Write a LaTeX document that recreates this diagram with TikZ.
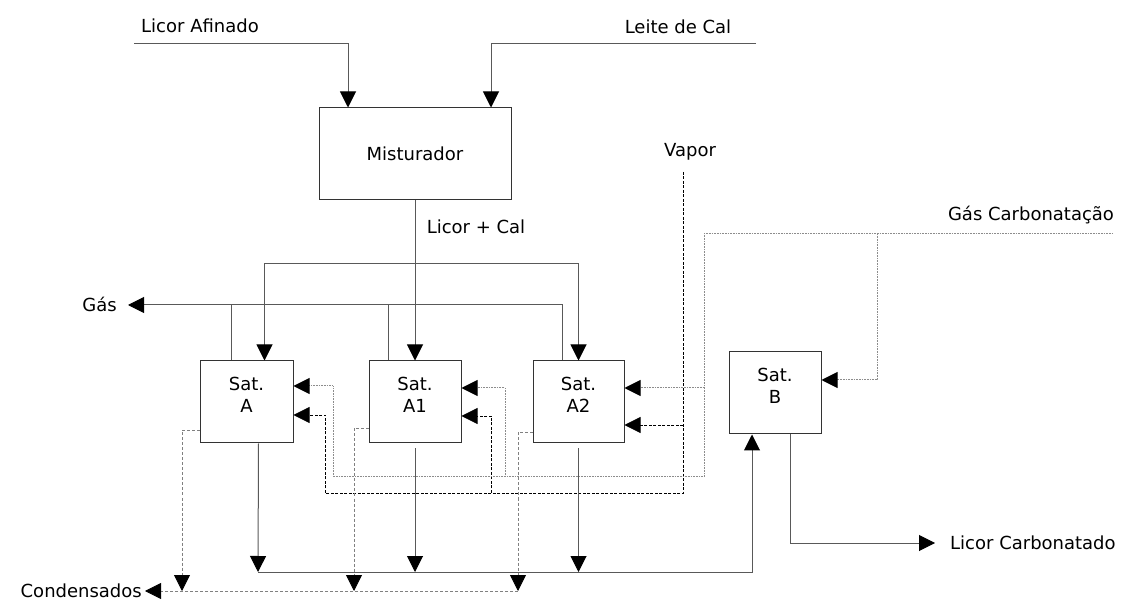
\documentclass[tikz,border=0pt]{standalone}
\usepackage{fontspec}
\setmainfont{DejaVu Sans}
\usetikzlibrary{arrows.meta,positioning}

\begin{document}
\begin{tikzpicture}[
  x=1pt,y=-1pt,
  every node/.style={font=\fontsize{18}{22}\selectfont},
  box/.style={draw=black!80,line width=1pt,minimum width=92pt,minimum height=82pt,inner sep=0pt},
  boxtext/.style={align=center,inner sep=0pt},
  lbl/.style={inner sep=0pt,text height=13pt,text depth=0pt},
  arr/.style={-{Triangle[length=16pt,width=16pt,color=black]}},
  flow/.style={draw=black!65,line width=1pt},
  steam/.style={draw=black,line width=0.8pt,dash pattern=on 3pt off 1.5pt},
  co2/.style={draw=black!45,line width=1pt,dash pattern=on 1pt off 0.6pt},
  cond/.style={draw=black!50,line width=0.8pt,dash pattern=on 3pt off 2pt}
]
\useasboundingbox (0,0) rectangle (1125,601);

% equipamentos
\node[box,minimum width=192pt,minimum height=92pt] (mix) at (415,154) {Misturador};
\node[box,minimum width=93pt] (satA) at (246.5,402) {};
\node[box] (satA1) at (415,402) {};
\node[box,minimum width=91pt] (satA2) at (578.5,402) {};
\node[box] (satB) at (775,393) {};
\node[boxtext] (satAt) at ([yshift=7pt]satA.center) {Sat.\\A};
\node[boxtext] (satA1t) at ([yshift=7pt]satA1.center) {Sat.\\A1};
\node[boxtext] (satA2t) at ([yshift=7pt]satA2.center) {Sat.\\A2};
\node[boxtext] (satBt) at ([yshift=7pt]satB.center) {Sat.\\B};

% pontos das correntes
\coordinate (afin) at (134,44);
\coordinate (leite) at (756,44);
\coordinate (lc) at (415,264);
\coordinate (gas) at (128,305);
\coordinate (vap) at (683,172);
\coordinate (vbot) at (683,493);
\coordinate (vA) at (325,493);
\coordinate (vA1) at (491,493);
\coordinate (gc) at (1113,234);
\coordinate (gtop) at (704,234);
\coordinate (gbot) at (704,477);
\coordinate (gA) at (333,477);
\coordinate (gA1) at (505,477);
\coordinate (gB) at (877,234);
\coordinate (bA) at (258,572);
\coordinate (lcarb) at (935,543);
\coordinate (cnd) at (145,591);

% rotulos
\node[lbl] (afinlbl) at (200,26) {Licor Afinado};
\node[lbl] (leitelbl) at (678,27) {Leite de Cal};
\node[lbl] (vaplbl) at (690,150) {Vapor};
\node[lbl] (gclbl) at (1031,214) {Gás Carbonatação};
\node[lbl] (lclbl) at (476,227) {Licor + Cal};
\node[lbl,left=11pt of gas] (gaslbl) {Gás};
\node[lbl,right=15pt of lcarb] (lcarblbl) {Licor Carbonatado};
\node[lbl,left=3pt of cnd] (cndlbl) {Condensados};

% entradas
\draw[flow,arr] (afin) -| ([xshift=-67pt]mix.north);
\draw[flow,arr] (leite) -| ([xshift=76pt]mix.north);
% licor + cal
\draw[flow] (mix.south) -- (lc);
\draw[flow,arr] (lc) -| ([xshift=18pt]satA.north);
\draw[flow,arr] (lc) -- (satA1.north);
\draw[flow,arr] (lc) -| (satA2.north);
% gas de saida
\draw[flow,arr] ([xshift=-16pt]satA2.north) |- (gas);
\draw[flow] ([xshift=-15pt]satA.north) -- ([xshift=-15pt]satA.north |- gas);
\draw[flow] ([xshift=-27pt]satA1.north) -- ([xshift=-27pt]satA1.north |- gas);
% vapor
\draw[steam] (vap) -- (vbot) -- (vA);
\draw[steam,arr] (vA) |- ([yshift=-13pt]satA.east);
\draw[steam,arr] (vA1) |- ([yshift=-14pt]satA1.east);
\draw[steam,arr] ([yshift=-23pt]satA2.east -| vap) -- ([yshift=-23pt]satA2.east);
% gas de carbonatacao
\draw[co2] (gc) -- (gtop) -- (gbot) -- (gA);
\draw[co2,arr] (gA) |- ([yshift=16pt]satA.east);
\draw[co2,arr] (gA1) |- ([yshift=14pt]satA1.east);
\draw[co2,arr] ([yshift=14pt]satA2.east -| gtop) -- ([yshift=14pt]satA2.east);
\draw[co2,arr] (gB) |- ([yshift=13pt]satB.east);
% licor para o Sat. B
\draw[flow,arr] ([xshift=12pt]satA.south) -- (bA);
\draw[flow,arr] ([yshift=-5pt]satA1.south) -- (satA1.south |- bA);
\draw[flow,arr] ([yshift=-5pt]satA2.south) -- (satA2.south |- bA);
\draw[flow,arr] (bA) -| ([xshift=-23pt]satB.south);
\draw[flow,arr] ([xshift=15pt]satB.south) |- (lcarb);
% condensados
\draw[cond,arr] ([yshift=-28pt]satA.west) -| ([xshift=37pt]cnd);
\draw[cond,arr] ([yshift=-26pt]satA1.west) -| ([xshift=209pt]cnd);
\draw[cond,arr] ([yshift=-30pt]satA2.west) -| ([xshift=373pt]cnd);
\draw[cond,arr] ([xshift=373pt]cnd) -- (cnd);
\end{tikzpicture}
\end{document}
